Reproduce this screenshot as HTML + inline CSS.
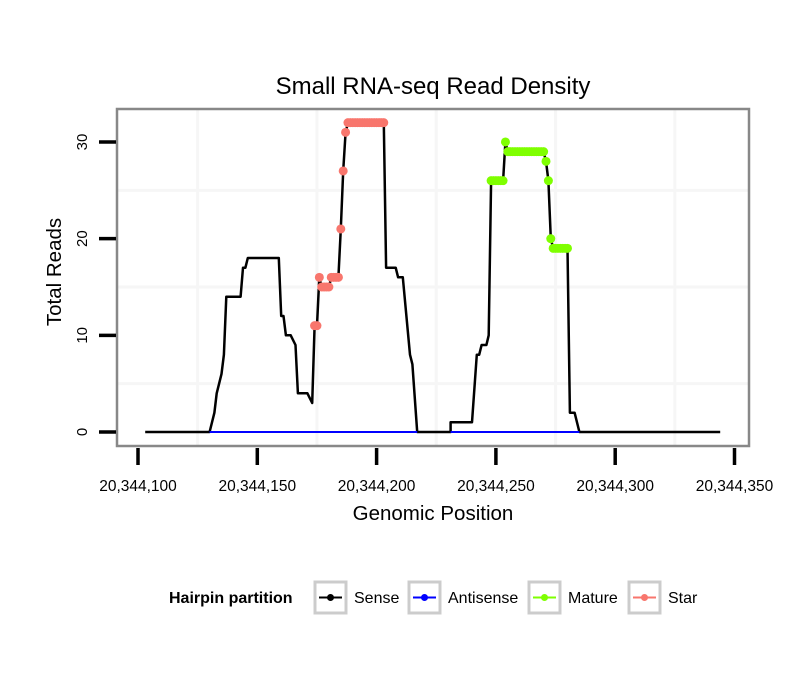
<!DOCTYPE html>
<html><head><meta charset="utf-8"><style>
body{margin:0;background:#fff;}
svg text{font-family:"Liberation Sans",sans-serif;}
</style></head><body>
<svg id="chart" width="810" height="690" xmlns="http://www.w3.org/2000/svg">
<rect width="810" height="690" fill="#fff"/>
<text x="433" y="94" font-size="24" text-anchor="middle">Small RNA-seq Read Density</text>
<g id="grid"></g>
<rect x="117" y="109" width="632" height="337" fill="none" stroke="#888" stroke-width="2.5"/>
<g id="series"></g>
<g id="axes"></g>
<text x="433" y="520" font-size="20.5" text-anchor="middle">Genomic Position</text>
<text transform="translate(61,272) rotate(-90)" font-size="20.5" text-anchor="middle">Total Reads</text>
<g>
<text x="169" y="603" font-size="16" font-weight="bold">Hairpin partition</text>
<g><rect x="315" y="582" width="31" height="31" fill="#fff" stroke="#ccc" stroke-width="3"/><line x1="319" y1="597.5" x2="342" y2="597.5" stroke="#000" stroke-width="2"/><circle cx="330.5" cy="597.5" r="3.5" fill="#000"/><text x="354" y="603" font-size="16">Sense</text></g>
<g><rect x="409" y="582" width="31" height="31" fill="#fff" stroke="#ccc" stroke-width="3"/><line x1="413" y1="597.5" x2="436" y2="597.5" stroke="#00f" stroke-width="2"/><circle cx="424.5" cy="597.5" r="3.5" fill="#00f"/><text x="448" y="603" font-size="16">Antisense</text></g>
<g><rect x="529" y="582" width="31" height="31" fill="#fff" stroke="#ccc" stroke-width="3"/><line x1="533" y1="597.5" x2="556" y2="597.5" stroke="#7fff00" stroke-width="2"/><circle cx="544.5" cy="597.5" r="3.5" fill="#7fff00"/><text x="568" y="603" font-size="16">Mature</text></g>
<g><rect x="629" y="582" width="31" height="31" fill="#fff" stroke="#ccc" stroke-width="3"/><line x1="633" y1="597.5" x2="656" y2="597.5" stroke="#f8766d" stroke-width="2"/><circle cx="644.5" cy="597.5" r="3.5" fill="#f8766d"/><text x="668" y="603" font-size="16">Star</text></g>
</g>
</svg>
<script>
const BASE = 20344100;
const xTicks = [100, 150, 200, 250, 300, 350];
const xTickLabels = ["20,344,100","20,344,150","20,344,200","20,344,250","20,344,300","20,344,350"];
const yTicks = [0, 10, 20, 30];
const senseX = [103,130,132,133,135,136,137,143,144,145,146,159,160,161,162,164,166,167,171,173,174,175,176,177,180,181,184,185,186,187,188,203,204,208,209,211,214,215,217,231,231,240,242,243,244,246,247,248,253,254,255,270,271,272,273,274,280,281,283,285,344];
const senseY = [0,0,2,4,6,8,14,14,17,17,18,18,12,12,10,10,9,4,4,3,11,11,16,15,15,16,16,21,27,31,32,32,17,17,16,16,8,7,0,0,1,1,8,8,9,9,10,26,26,30,29,29,28,26,20,19,19,2,2,0,0];
const antiX = [130,217,231,285];
const antiY = [0,0,0,0];
const starX = [174,175,176,177,178,179,180,181,182,183,184,185,186,187,188,189,190,191,192,193,194,195,196,197,198,199,200,201,202,203];
const starY = [11,11,16,15,15,15,15,16,16,16,16,21,27,31,32,32,32,32,32,32,32,32,32,32,32,32,32,32,32,32];
const matureX = [248,249,250,251,252,253,254,255,256,257,258,259,260,261,262,263,264,265,266,267,268,269,270,271,272,273,274,275,276,277,278,279,280];
const matureY = [26,26,26,26,26,26,30,29,29,29,29,29,29,29,29,29,29,29,29,29,29,29,29,28,26,20,19,19,19,19,19,19,19];

const NS = "http://www.w3.org/2000/svg";
function X(v){ return 138 + (v - 100) * 2.386; }
function Y(v){ return 432 - v * 9.667; }
function mk(tag, attrs, parent){ const e = document.createElementNS(NS, tag); for (const k in attrs) e.setAttribute(k, attrs[k]); parent.appendChild(e); return e; }

const grid = document.getElementById('grid');
for (let i = 0; i < xTicks.length - 1; i++) {
  const gx = X((xTicks[i]+xTicks[i+1])/2);
  const g = mk('line', {x1: gx, x2: gx, y1: 110, y2: 445, stroke: '#f6f6f6', 'stroke-width': 3}, grid);
  
  
}
for (let i = 0; i < yTicks.length - 1; i++) {
  const v = (yTicks[i] + yTicks[i+1]) / 2;
  const g = mk('line', {x1: 118, x2: 748, y1: Y(v), y2: Y(v), stroke: '#f6f6f6', 'stroke-width': 3}, grid);
  
  
}

const axes = document.getElementById('axes');
xTicks.forEach((t, i) => {
  const l = mk('line', {x1: X(t), x2: X(t), y1: 448, y2: 465, stroke: '#000', 'stroke-width': 3.5}, axes);
  
  
  const tx = mk('text', {x: X(t), y: 491, 'font-size': 15.5, 'text-anchor': 'middle'}, axes);
  tx.textContent = xTickLabels[i];
  
  
});
yTicks.forEach(t => {
  const l = mk('line', {x1: 99, x2: 116, y1: Y(t), y2: Y(t), stroke: '#000', 'stroke-width': 3.5}, axes);
  
  
  const tx = mk('text', {transform: `translate(87,${Y(t)}) rotate(-90)`, 'font-size': 15, 'text-anchor': 'middle'}, axes);
  tx.textContent = String(t);
  
  
});

const series = document.getElementById('series');
function path(xs, ys){ return xs.map((x, i) => (i ? 'L' : 'M') + X(x).toFixed(1) + ',' + Y(ys[i]).toFixed(1)).join(''); }
const sp = mk('path', {d: path(senseX, senseY), fill: 'none', stroke: '#000', 'stroke-width': 2.5, 'stroke-linejoin': 'round'}, series);


for (let i = 0; i < antiX.length; i += 2) {
  const ap = mk('path', {d: path(antiX.slice(i, i+2), antiY.slice(i, i+2)), fill: 'none', stroke: '#00f', 'stroke-width': 2}, series);
  
  
}
starX.forEach((x, i) => {
  const c = mk('circle', {cx: X(x), cy: Y(starY[i]), r: 4.5, fill: '#f8766d'}, series);
  
  
});
matureX.forEach((x, i) => {
  const c = mk('circle', {cx: X(x), cy: Y(matureY[i]), r: 4.5, fill: '#7fff00'}, series);
  
  
});
</script>
</body></html>
